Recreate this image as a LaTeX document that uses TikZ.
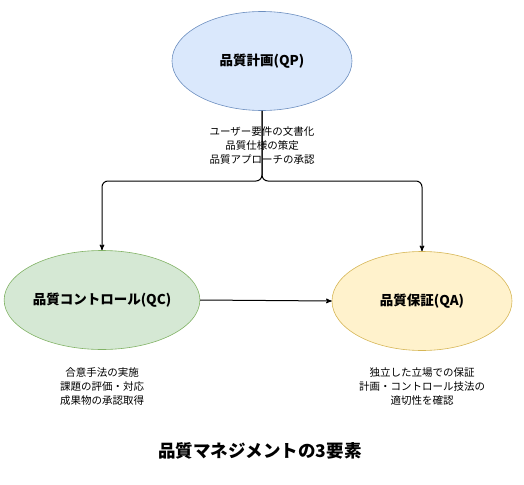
\documentclass[tikz,border=0pt]{standalone}
\usepackage{fontspec}
\setmainfont{Noto Sans CJK JP}
\usetikzlibrary{shapes.geometric}
\usetikzlibrary{positioning}
\usetikzlibrary{arrows}
\definecolor{qpfill}{HTML}{DAE8FC}
\definecolor{qpline}{HTML}{6C8EBF}
\definecolor{qcfill}{HTML}{D5E8D4}
\definecolor{qcline}{HTML}{82B366}
\definecolor{qafill}{HTML}{FFF2CC}
\definecolor{qaline}{HTML}{D6B656}
\tikzset{x=1pt, y=-1pt,
    phase/.style={
        ellipse,
        draw,
        semithick,
        inner sep=0pt,
        minimum width=180pt,
        minimum height=99pt,
        font=\bfseries\fontsize{13.5}{16}\selectfont},
    note/.style={
        align=center,
        inner sep=0pt,
        font=\fontsize{10.5}{14}\selectfont},
    flow/.style={
        draw,
        ->,>=stealth',
        line width=1pt}}

\begin{document}
\begin{tikzpicture}
        \useasboundingbox (0,0) rectangle (524,484);
        \node[phase, fill=qpfill, draw=qpline] (qp) at (262,61) {品質計画(QP)};
        \node[phase, fill=qcfill, draw=qcline] (qc) at (102,300) {品質コントロール(QC)};
        \node[phase, fill=qafill, draw=qaline] (qa) at (422,301) {品質保証(QA)};
        \coordinate (split) at (262,181);
        \draw[flow, rounded corners=6pt] (qp.south) |- (qc.north |- split) -- (qc.north);
        \draw[flow, rounded corners=6pt] (qp.south) |- (qa.north |- split) -- (qa.north);
        \draw[flow] (qc.east) -- (qa.west);
        % notes
        \node[note] (qpnote) at (262,146) {ユーザー要件の文書化\\品質仕様の策定\\品質アプローチの承認};
        \node[note] (qcnote) at (102,387) {合意手法の実施\\課題の評価・対応\\成果物の承認取得};
        \node[note] (qanote) at (422,387) {独立した立場での保証\\計画・コントロール技法の\\適切性を確認};
        \node[font=\bfseries\fontsize{17.5}{20}\selectfont, inner sep=0pt] (title) at (260,451) {品質マネジメントの3要素};
\end{tikzpicture}
\end{document}
